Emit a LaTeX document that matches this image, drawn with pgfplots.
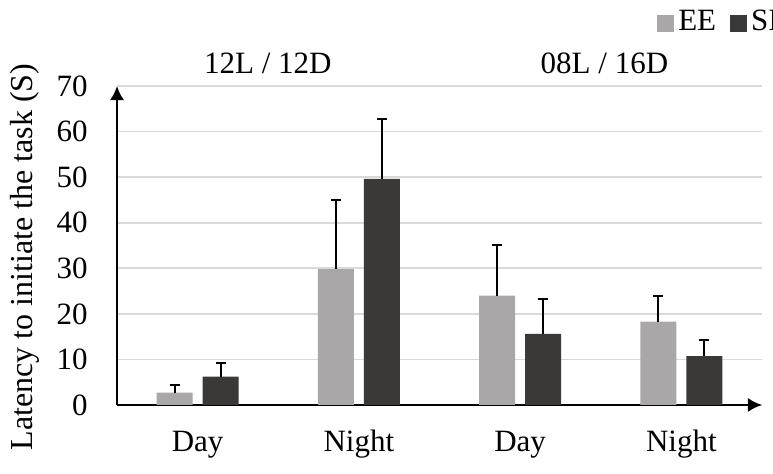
\documentclass[border=0pt]{standalone}
\usepackage{fontspec}
\setmainfont{Liberation Serif}
\usepackage{pgfplots}
\pgfplotsset{compat=1.18}
\usetikzlibrary{arrows.meta}
\definecolor{ee}{HTML}{A9A7A7}
\definecolor{si}{HTML}{3B3838}
\definecolor{gridc}{HTML}{D9D9D9}
\begin{document}
\fontsize{15.5}{18}\selectfont
\begin{tikzpicture}
\begin{axis}[
  scale only axis, width=322.5pt, height=159.5pt,
  at={(0pt,0pt)}, anchor=south west,
  xmin=-0.5, xmax=3.5, ymin=0, ymax=70,
  axis lines=left,
  axis line style={line width=1pt, -{Latex[length=7pt,width=7pt]}},
  ytick={0,10,...,70}, xtick={0,1,2,3}, xticklabels={Day,Night,Day,Night},
  major tick length=0pt,
  ymajorgrids, grid style={gridc, line width=0.8pt},
  /pgf/number format/assume math mode=true,
  tick label style={font=\fontsize{15.5}{18}\selectfont},
  label style={font=\fontsize{16}{18}\selectfont},
  yticklabel style={anchor=east, inner sep=0pt, xshift=-14.5pt},
  xticklabel style={anchor=base, inner sep=0pt, yshift=-23.35pt},
  ylabel={Latency to initiate the task (S)},
  ylabel style={at={([xshift=-42pt,yshift=-5.75pt]axis description cs:0,0.5)}, anchor=base, inner sep=0pt},
  ybar, bar width=18pt,
  clip=false,
  legend style={draw=none, fill=none, at={(0.837,1.1975)}, anchor=west,
    legend columns=2, inner sep=0pt, font=\fontsize{15.5}{18}\selectfont,
    /tikz/every even column/.append style={column sep=5pt}},
  legend image code/.code={\fill[#1] (0pt,-4.25pt) rectangle (8.5pt,4.25pt);},
]
\addplot[fill=ee, draw=none, bar shift=-11.5pt,
  error bars/.cd, y dir=plus, y explicit,
  error bar style={draw=black, line width=1pt},
  error mark options={rotate=90, draw=black, line width=1pt, mark size=2.5pt}]
  coordinates {(0,2.7) +- (0,1.7) (1,29.8) +- (0,15.2) (2,24.0) +- (0,11.1) (3,18.3) +- (0,5.6)};
\addplot[fill=si, draw=none, bar shift=11.5pt,
  error bars/.cd, y dir=plus, y explicit,
  error bar style={draw=black, line width=1pt},
  error mark options={rotate=90, draw=black, line width=1pt, mark size=2.5pt}]
  coordinates {(0,6.2) +- (0,3.1) (1,49.6) +- (0,13.1) (2,15.6) +- (0,7.6) (3,10.7) +- (0,3.5)};
\legend{EE, SI}
\node[anchor=base] at (axis cs:0.436,72.85) {12L / 12D};
\node[anchor=base] at (axis cs:2.523,72.85) {08L / 16D};
\end{axis}
\pgfresetboundingbox
\useasboundingbox (-58.5pt,-34.5pt) rectangle (328pt,202.5pt);
\end{tikzpicture}
\end{document}
